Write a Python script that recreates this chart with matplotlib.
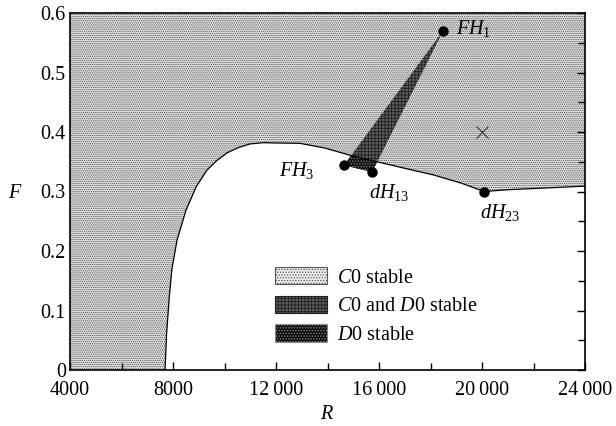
import numpy as np
import matplotlib
matplotlib.use("Agg")
import matplotlib.pyplot as plt
from matplotlib.patches import Polygon, Patch
from matplotlib.ticker import MultipleLocator, FixedLocator, FixedFormatter

plt.rcParams['font.family'] = ['Liberation Serif', 'DejaVu Serif']
plt.rcParams['mathtext.fontset'] = 'custom'
plt.rcParams['mathtext.rm'] = 'Liberation Serif'
plt.rcParams['mathtext.it'] = 'Liberation Serif:italic'
plt.rcParams['hatch.linewidth'] = 0.6

# Boundary of C0-stable region (R, F)
curve_R = [7690, 7750, 7850, 7960, 8155, 8500, 8900, 9320, 9700, 10100, 10550, 10990, 11500,
           12040, 12930, 13900, 14870, 15920, 17000, 18100, 19200, 20080, 21000, 22500, 24000]
curve_F = [0.0, 0.06, 0.12, 0.17, 0.218, 0.268, 0.308, 0.336, 0.352, 0.365, 0.374, 0.380, 0.382,
           0.3815, 0.381, 0.373, 0.361, 0.350, 0.339, 0.328, 0.314, 0.300, 0.303, 0.306, 0.309]

# Region where both C0 and D0 are stable (wedge)
wedge_R = [18490, 14640, 15730, 15920]
wedge_F = [0.570, 0.344, 0.333, 0.349]

# Special points
pts_R = [18490, 14640, 15730, 20080]
pts_F = [0.570, 0.344, 0.333, 0.300]
pts_lab = [r'$FH_1$', r'$FH_3$', r'$dH_{13}$', r'$dH_{23}$']
cross_R, cross_F = 20000, 0.40

xticks = [4000, 8000, 12000, 16000, 20000, 24000]
xticklabels = ['4000', '8000', '12\u2009000', '16\u2009000', '20\u2009000', '24\u2009000']
yticks = [0, 0.1, 0.2, 0.3, 0.4, 0.5, 0.6]
yticklabels = ['0', '0.1', '0.2', '0.3', '0.4', '0.5', '0.6']

fig = plt.figure(figsize=(6.16, 4.26), dpi=100)
ax = fig.add_axes([70/616, 1-370/426, 515/616, 357/426])
ax.set_xlim(4000, 24000)
ax.set_ylim(0, 0.6)

c0_style = dict(facecolor='#e2e2e2', edgecolor='#505050', hatch='........', linewidth=0)
both_style = dict(facecolor='#5e5e5e', edgecolor='#1e1e1e', hatch='+++++', linewidth=0)
d0_style = dict(facecolor='#101010', edgecolor='#8a8a8a', hatch='......', linewidth=0)

# C0 stable polygon
poly = [(4000, 0)] + list(zip(curve_R, curve_F)) + [(24000, 0.6), (4000, 0.6)]
ax.add_patch(Polygon(poly, closed=True, zorder=1, **c0_style))
ax.plot(curve_R, curve_F, color='black', lw=0.9, zorder=3)

# wedge
wedge = Polygon(list(zip(wedge_R, wedge_F)), closed=True, zorder=2, **both_style)
ax.add_patch(wedge)
below = Polygon([(4000, 0)] + list(zip(curve_R, curve_F)) + [(24000, 0)], closed=True,
                transform=ax.transData, visible=False)
ax.add_patch(below)
d0 = Polygon(list(zip(wedge_R, wedge_F)), closed=True, zorder=2.5, **d0_style)
ax.add_patch(d0)
d0.set_clip_path(below)

ax.plot(pts_R, pts_F, 'o', color='black', ms=6.5, zorder=5)
ax.plot([cross_R], [cross_F], marker='x', color='#333333', ms=8, mew=0.8, zorder=5)

fs = 14.5
ax.text(19000, 0.574, pts_lab[0], fontsize=fs, va='center', ha='left')
ax.text(13510, 0.336, pts_lab[1], fontsize=fs, va='center', ha='right')
ax.text(15600, 0.298, pts_lab[2], fontsize=fs, va='center', ha='left')
ax.text(19920, 0.264, pts_lab[3], fontsize=fs, va='center', ha='left')

handles = [Patch(facecolor='#ececec', edgecolor='#555555', hatch='......', lw=0.8),
           Patch(facecolor='#5e5e5e', edgecolor='#1e1e1e', hatch='+++++', lw=0.8),
           Patch(facecolor='#101010', edgecolor='#8a8a8a', hatch='......', lw=0.8)]
labels = [r'$C$0 stable', r'$C$0 and $D$0 stable', r'$D$0 stable']
ax.legend(handles, labels, loc='upper left', bbox_to_anchor=(205/515, 103/357),
          frameon=False, fontsize=fs, handlelength=2.6, handleheight=0.95,
          borderpad=0, borderaxespad=0, labelspacing=0.4, handletextpad=0.5)

ax.xaxis.set_major_locator(FixedLocator(xticks))
ax.xaxis.set_major_formatter(FixedFormatter(xticklabels))
ax.xaxis.set_minor_locator(MultipleLocator(2000))
ax.yaxis.set_major_locator(FixedLocator(yticks))
ax.yaxis.set_major_formatter(FixedFormatter(yticklabels))
ax.yaxis.set_minor_locator(MultipleLocator(0.05))
ax.tick_params(axis='both', which='both', direction='in', labelsize=fs,
               top=False, left=False, right=True, bottom=True)
ax.tick_params(which='major', length=6, width=1)
ax.tick_params(which='minor', length=5, width=1)
ax.tick_params(axis='x', pad=8)
ax.tick_params(axis='y', pad=3)
for s in ax.spines.values():
    s.set_linewidth(1.2)
    s.set_zorder(6)

ax.set_xlabel(r'$R$', fontsize=fs)
ax.xaxis.set_label_coords(0.5, -35/357)
ax.set_ylabel(r'$F$', fontsize=fs, rotation=0, va='center', ha='center')
ax.yaxis.set_label_coords(-55/515, 0.297/0.6)

fig.savefig('out.png', dpi=100)
